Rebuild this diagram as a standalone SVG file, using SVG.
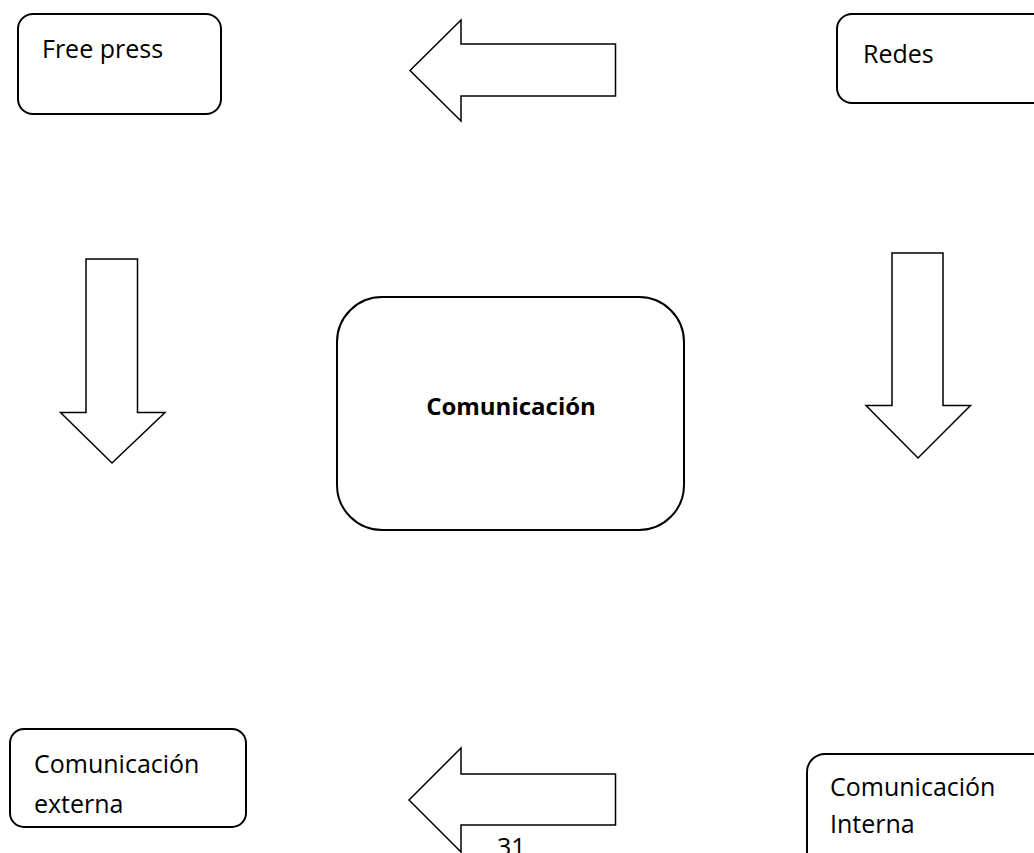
<svg xmlns="http://www.w3.org/2000/svg" width="1034" height="853" viewBox="0 0 1034 853">
<style>
.box{fill:#fff;stroke:#000;stroke-width:2}
.arr{fill:#fff;stroke:#000;stroke-width:1.5;stroke-linejoin:miter}
.t{font-family:"Open Sans","Liberation Sans",sans-serif;font-size:25px;fill:#000}
.b{font-weight:bold;text-anchor:middle;font-size:24px}
</style>
<rect width="1034" height="853" fill="#fff"/>
<g id="free-press">
<rect class="box" x="18" y="14" width="203" height="100" rx="15"/>
<text class="t" x="42" y="58">Free press</text>
</g>
<g id="redes">
<rect class="box" x="837" y="14" width="212" height="89" rx="15"/>
<text class="t" x="863" y="63">Redes</text>
</g>
<g id="comunicacion">
<rect class="box" x="337" y="297" width="347" height="233" rx="45"/>
<text class="t b" x="511" y="415">Comunicación</text>
</g>
<g id="comunicacion-externa">
<rect class="box" x="10" y="729" width="236" height="98" rx="14"/>
<text class="t" x="34" y="773">Comunicación</text>
<text class="t" x="34" y="813">externa</text>
</g>
<g id="comunicacion-interna">
<rect class="box" x="807" y="754" width="250" height="120" rx="18"/>
<text class="t" x="830" y="796">Comunicación</text>
<text class="t" x="830" y="833">Interna</text>
</g>
<g id="connectors">
<polygon class="arr" points="615.5,44 461,44 461,20 410,70.5 461,121 461,96 615.5,96"/>
<polygon class="arr" points="86,259 137.5,259 137.5,412.5 165,412.5 112,463 60.5,412.5 86,412.5"/>
<polygon class="arr" points="892,253 943,253 943,405.5 970.5,405.5 918,458 866,405.5 892,405.5"/>
<polygon class="arr" points="615.5,774 461,774 461,748 409,800 461,852 461,825 615.5,825"/>
</g>
<text class="t" x="497" y="856">31</text>
</svg>
